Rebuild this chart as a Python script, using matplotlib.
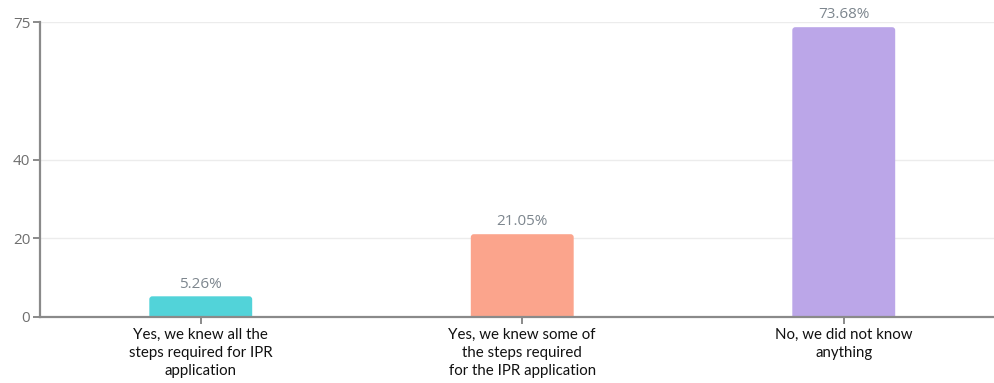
import matplotlib
matplotlib.use("Agg")
import matplotlib.pyplot as plt
from matplotlib.patches import FancyBboxPatch

categories = [
    "Yes, we knew all the\nsteps required for IPR\napplication",
    "Yes, we knew some of\nthe steps required\nfor the IPR application",
    "No, we did not know\nanything",
]
values = [5.26, 21.05, 73.68]
bar_colors = ["#52d3d9", "#fba48c", "#bba6e8"]
y_ticks = [0, 20, 40, 75]

fig = plt.figure(figsize=(9.95, 3.83), dpi=100)
ax = fig.add_axes([40 / 995, 66 / 383, 964.5 / 995, 295 / 383])

x = list(range(len(categories)))
bars = ax.bar(x, values, width=0.32, color=bar_colors, zorder=3)

ax.set_xlim(-0.5, 2.5)
ax.set_ylim(0, 75)

# replace plain rectangles with slightly rounded ones (bottom hidden below axis)
px_x = 964.5 / 3.0      # pixels per x unit
px_y = 295 / 75.0       # pixels per y unit
radius_px = 3.0
for rect in bars:
    rect.set_visible(False)
    below = 4 / px_y
    fb = FancyBboxPatch(
        (rect.get_x(), -below), rect.get_width(), rect.get_height() + below,
        boxstyle=f"round,pad=0,rounding_size={radius_px / px_x}",
        mutation_aspect=px_x / px_y,
        facecolor=rect.get_facecolor(), edgecolor="none", zorder=3,
    )
    ax.add_patch(fb)

for xi, v in zip(x, values):
    ax.text(xi, v + 1.2, f"{v:.2f}%", ha="center", va="bottom",
            fontsize=11, color="#7d868e", family="Open Sans")

ax.set_yticks(y_ticks)
ax.set_yticklabels([str(t) for t in y_ticks], family="Open Sans",
                   fontsize=11, color="#6f6f6f")
ax.set_xticks(x)
ax.set_xticklabels(categories, family="Lato", fontsize=10.8, color="#111111",
                   linespacing=1.35)

ax.grid(axis="y", color="#ececec", linewidth=1, zorder=0)
for side in ("top", "right"):
    ax.spines[side].set_visible(False)
for side in ("left", "bottom"):
    ax.spines[side].set_color("#8a8a8a")
    ax.spines[side].set_linewidth(1.6)
    ax.spines[side].set_zorder(4)
ax.tick_params(axis="y", length=5, width=1.4, color="#8a8a8a", pad=2)
ax.tick_params(axis="x", length=5, width=1.4, color="#8a8a8a", pad=3)

fig.savefig("out.png", dpi=100)
